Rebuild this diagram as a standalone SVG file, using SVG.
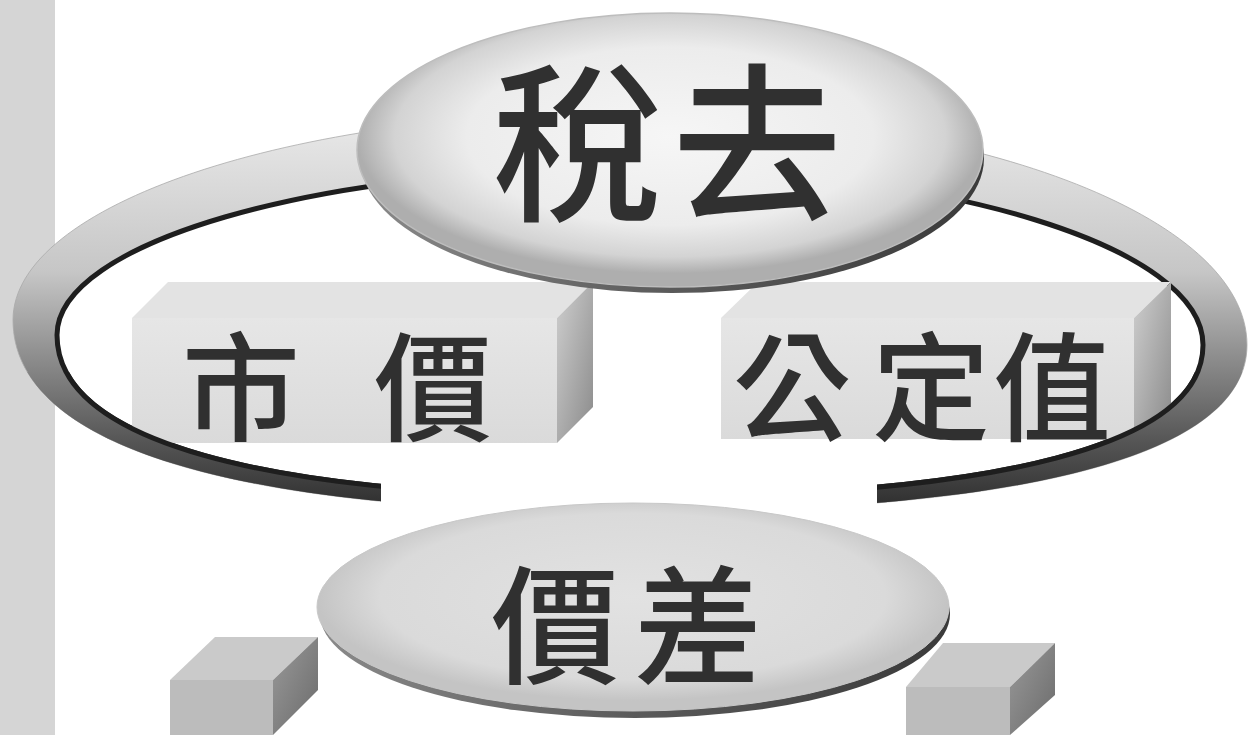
<svg xmlns="http://www.w3.org/2000/svg" width="1249" height="735" viewBox="0 0 1249 735">
  <defs>
    <style>
      .cjk { font-family: "Noto Sans CJK TC", "Noto Sans CJK SC", sans-serif; fill: #303030; }
      .big { font-size: 170px; font-weight: 500; }
      .mid { font-size: 118px; font-weight: 500; }
      .low { font-size: 128px; font-weight: 500; }
      .front { fill: url(#boxFront); }
      .topf { fill: #e3e3e3; }
      .side { fill: url(#boxSide); }
      .sfront { fill: #bcbcbc; }
      .stop { fill: #cacaca; }
      .sside { fill: url(#smallSide); }
      .innerEdge { fill: none; stroke: #1e1e1e; stroke-width: 5; }
    </style>
    <linearGradient id="ringGrad" gradientUnits="userSpaceOnUse" x1="0" y1="110" x2="0" y2="515">
      <stop offset="0" stop-color="#ebebeb"/>
      <stop offset="0.4" stop-color="#c6c6c6"/>
      <stop offset="0.6" stop-color="#909090"/>
      <stop offset="0.82" stop-color="#555"/>
      <stop offset="1" stop-color="#2a2a2a"/>
    </linearGradient>
    <linearGradient id="boxFront" x1="0" y1="0" x2="0" y2="1">
      <stop offset="0" stop-color="#e6e6e6"/>
      <stop offset="1" stop-color="#dadada"/>
    </linearGradient>
    <linearGradient id="boxSide" x1="0" y1="0" x2="1" y2="1">
      <stop offset="0" stop-color="#cfcfcf"/>
      <stop offset="1" stop-color="#8a8a8a"/>
    </linearGradient>
    <linearGradient id="smallSide" x1="0" y1="0" x2="1" y2="1">
      <stop offset="0" stop-color="#9a9a9a"/>
      <stop offset="1" stop-color="#6a6a6a"/>
    </linearGradient>
    <radialGradient id="ovalTop" cx="50%" cy="45%" r="50%">
      <stop offset="0" stop-color="#f6f6f6"/>
      <stop offset="0.65" stop-color="#ececec"/>
      <stop offset="0.88" stop-color="#d3d3d3"/>
      <stop offset="1" stop-color="#aeaeae"/>
    </radialGradient>
    <radialGradient id="ovalLow" cx="50%" cy="45%" r="50%">
      <stop offset="0" stop-color="#e2e2e2"/>
      <stop offset="0.8" stop-color="#dadada"/>
      <stop offset="1" stop-color="#c4c4c4"/>
    </radialGradient>
    <linearGradient id="bevel" x1="0" y1="0" x2="1" y2="0">
      <stop offset="0" stop-color="#8a8a8a"/>
      <stop offset="0.5" stop-color="#5a5a5a"/>
      <stop offset="1" stop-color="#3a3a3a"/>
    </linearGradient>
    <clipPath id="gapClip">
      <path clip-rule="evenodd" d="M0 0H1249V735H0Z M381 420H877V735H381Z"/>
    </clipPath>
    <clipPath id="frontClip">
      <rect x="0" y="372" width="1249" height="363"/>
    </clipPath>
    <path id="ringShape" fill-rule="evenodd"
      d="M13 320 C13 205 289 112 630 112 C970 112 1247 216 1247 345 C1247 454 1031 512 630 512 C229 512 13 445 13 320 Z
         M57 335 C57 243 314 168 630 168 C946 168 1203 247 1203 345 C1203 444 1002 497 630 497 C258 497 57 440 57 335 Z"/>
    <path id="ringInner"
      d="M57 335 C57 243 314 168 630 168 C946 168 1203 247 1203 345 C1203 444 1002 497 630 497 C258 497 57 440 57 335 Z"/>
  </defs>

  <rect id="side-strip" x="0" y="0" width="55" height="735" fill="#d5d5d5"/>

  <g id="connectors">
    <g id="ring-back" clip-path="url(#gapClip)">
      <use href="#ringShape" fill="url(#ringGrad)" stroke="#aaa" stroke-width="0.8"/>
      <use href="#ringInner" class="innerEdge"/>
    </g>
  </g>

  <g id="node-shijia">
    <polygon class="topf" points="132,318 168,282 593,282 557,318"/>
    <rect class="front" x="132" y="318" width="425" height="125"/>
    <polygon class="side" points="557,318 593,282 593,407 557,443"/>
    <text class="cjk mid" x="182 300 374" y="432">市 價</text>
  </g>

  <g id="node-gongdingzhi">
    <polygon class="topf" points="721,318 758,282 1171,282 1134,318"/>
    <rect class="front" x="721" y="318" width="413" height="121"/>
    <polygon class="side" points="1134,318 1171,282 1171,404 1134,439"/>
    <text class="cjk mid" x="733 872 993" y="432">公定值</text>
  </g>

  <g id="connectors-front" clip-path="url(#gapClip)">
    <g clip-path="url(#frontClip)">
      <use href="#ringShape" fill="url(#ringGrad)"/>
      <use href="#ringInner" class="innerEdge"/>
    </g>
  </g>

  <g id="node-shuiqu">
    <ellipse cx="672" cy="158" rx="312" ry="135" fill="url(#bevel)"/>
    <ellipse cx="670" cy="150" rx="313" ry="137" fill="url(#ovalTop)" stroke="#bdbdbd" stroke-width="1.5"/>
    <text class="cjk big" x="493 672" y="208">稅去</text>
  </g>

  <g id="block-left">
    <polygon class="stop" points="170,680 215,637 318,637 273,680"/>
    <rect class="sfront" x="170" y="680" width="103" height="55"/>
    <polygon class="sside" points="273,680 318,637 318,690 273,735"/>
  </g>

  <g id="block-right">
    <polygon class="stop" points="906,687 943,643 1055,643 1010,687"/>
    <rect class="sfront" x="906" y="687" width="104" height="48"/>
    <polygon class="sside" points="1010,687 1055,643 1055,695 1010,735"/>
  </g>

  <g id="node-jiacha">
    <ellipse cx="635" cy="614" rx="315" ry="104" fill="url(#bevel)"/>
    <ellipse cx="633" cy="607" rx="316" ry="104" fill="url(#ovalLow)" stroke="#c8c8c8" stroke-width="1"/>
    <text class="cjk low" x="491 634" y="674">價差</text>
  </g>
</svg>
